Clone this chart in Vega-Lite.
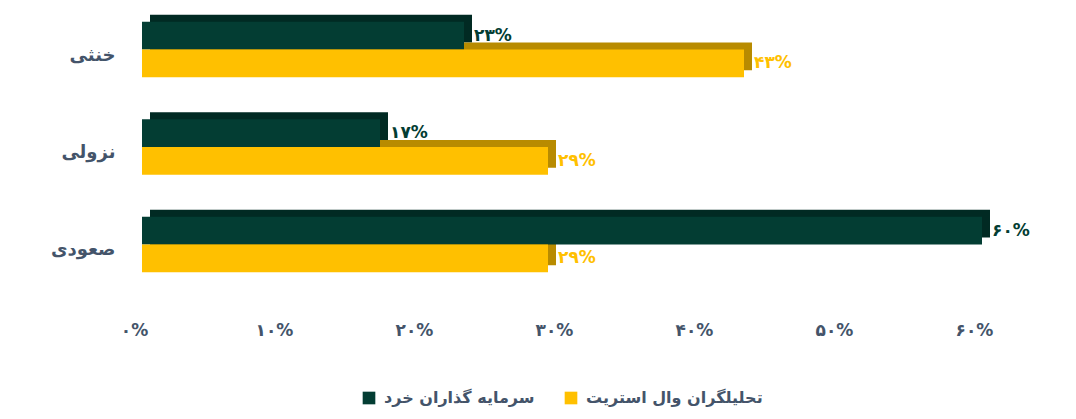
{
  "$schema": "https://vega.github.io/schema/vega-lite/v6.json",
  "width": 840,
  "height": 294,
  "autosize": {"type": "none"},
  "padding": {"left": 142, "top": 0, "right": 94, "bottom": 125},
  "background": "white",
  "config": {
    "view": {"stroke": null},
    "font": "DejaVu Sans",
    "legend": {"layout": {"bottom": {"anchor": "middle"}}}
  },
  "data": {
    "values": [
      {"category": "خنثی", "series": "سرمایه گذاران خرد", "value": 23, "label": "۲۳%"},
      {"category": "خنثی", "series": "تحلیلگران وال استریت", "value": 43, "label": "۴۳%"},
      {"category": "نزولی", "series": "سرمایه گذاران خرد", "value": 17, "label": "۱۷%"},
      {"category": "نزولی", "series": "تحلیلگران وال استریت", "value": 29, "label": "۲۹%"},
      {"category": "صعودی", "series": "سرمایه گذاران خرد", "value": 60, "label": "۶۰%"},
      {"category": "صعودی", "series": "تحلیلگران وال استریت", "value": 29, "label": "۲۹%"}
    ]
  },
  "encoding": {
    "y": {
      "field": "category",
      "type": "nominal",
      "sort": ["خنثی", "نزولی", "صعودی"],
      "scale": {"paddingInner": 0.43, "paddingOuter": 0.223},
      "axis": {
        "title": null,
        "domain": false,
        "ticks": false,
        "labelPadding": 27,
        "labelFontSize": 18,
        "labelFontWeight": "bold",
        "labelColor": "#44546a",
        "labelOffset": 6
      }
    },
    "x": {
      "field": "value",
      "type": "quantitative",
      "scale": {"domain": [0, 60], "nice": false},
      "axis": {
        "title": null,
        "domain": false,
        "ticks": false,
        "grid": false,
        "labelFlush": false,
        "values": [0, 10, 20, 30, 40, 50, 60],
        "labelExpr": "['۰%','۱۰%','۲۰%','۳۰%','۴۰%','۵۰%','۶۰%'][round(datum.value/10)]",
        "labelPadding": 28,
        "labelFontSize": 17,
        "labelFontWeight": "bold",
        "labelColor": "#44546a",
        "labelOffset": -8
      }
    }
  },
  "resolve": {"scale": {"yOffset": "independent"}},
  "layer": [
    {
      "mark": {"type": "bar", "xOffset": 8, "x2Offset": 8},
      "encoding": {
        "yOffset": {
          "field": "series",
          "type": "nominal",
          "sort": ["سرمایه گذاران خرد", "تحلیلگران وال استریت"],
          "scale": {"range": [-7, 48.56], "paddingInner": 0, "paddingOuter": 0}
        },
        "color": {
          "condition": {"test": "datum.series === 'سرمایه گذاران خرد'", "value": "#012a23"},
          "value": "#b88b00"
        }
      }
    },
    {
      "mark": {"type": "bar"},
      "encoding": {
        "yOffset": {
          "field": "series",
          "type": "nominal",
          "sort": ["سرمایه گذاران خرد", "تحلیلگران وال استریت"],
          "scale": {"paddingInner": 0, "paddingOuter": 0}
        },
        "color": {
          "field": "series",
          "type": "nominal",
          "scale": {
            "domain": ["سرمایه گذاران خرد", "تحلیلگران وال استریت"],
            "range": ["#033d33", "#ffc000"]
          },
          "legend": {
            "title": null,
            "orient": "bottom",
            "direction": "horizontal",
            "symbolType": "square",
            "symbolSize": 160,
            "symbolStrokeWidth": 0,
            "labelFontSize": 16,
            "labelFontWeight": "bold",
            "labelColor": "#44546a",
            "labelLimit": 400,
            "columnPadding": 28,
            "labelOffset": 7,
            "offset": 52
          }
        }
      }
    },
    {
      "mark": {"type": "text", "align": "left", "baseline": "middle", "dx": 10, "fontSize": 17, "fontWeight": "bold"},
      "encoding": {
        "yOffset": {
          "field": "series",
          "type": "nominal",
          "sort": ["سرمایه گذاران خرد", "تحلیلگران وال استریت"],
          "scale": {"type": "point", "padding": 0.5}
        },
        "text": {"field": "label"},
        "color": {
          "condition": {"test": "datum.series === 'سرمایه گذاران خرد'", "value": "#033d33"},
          "value": "#ffc000"
        }
      }
    }
  ]
}
